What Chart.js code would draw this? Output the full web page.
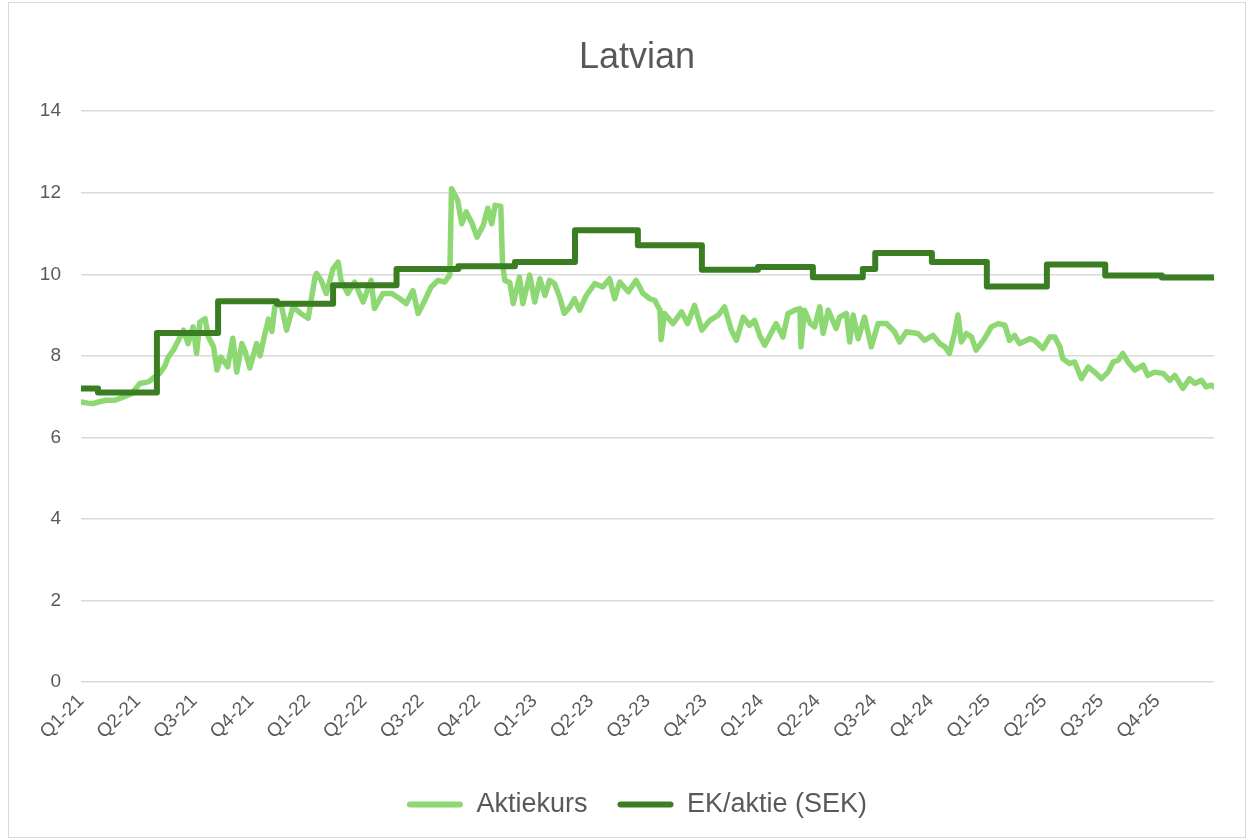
<!DOCTYPE html>
<html>
<head>
<meta charset="utf-8">
<script src="https://cdn.jsdelivr.net/npm/chart.js@4.4.1/dist/chart.umd.min.js"></script>
<style>
  html, body { margin: 0; padding: 0; background: #ffffff; }
  #wrap { position: relative; width: 1252px; height: 840px; }
  #frame { position: absolute; left: 8px; top: 2px; width: 1236px; height: 834px; border: 1px solid #d9d9d9; pointer-events: none; }
</style>
</head>
<body>
<div id="wrap">
  <canvas id="c" width="1252" height="840"></canvas>
  <div id="frame"></div>
</div>
<script>
// ---- Data (x = quarters elapsed since start of Q1-21) ----
const quarterLabels = ["Q1-21","Q2-21","Q3-21","Q4-21","Q1-22","Q2-22","Q3-22","Q4-22",
  "Q1-23","Q2-23","Q3-23","Q4-23","Q1-24","Q2-24","Q3-24","Q4-24","Q1-25","Q2-25","Q3-25","Q4-25"];

const seriesNames = ["Aktiekurs", "EK/aktie (SEK)"];

const aktieQ = [0.00,0.12,0.21,0.34,0.45,0.60,0.75,0.89,1.04,1.19,1.30,1.39,1.48,1.54,1.63,1.75,1.81,1.89,1.98,2.04,
  2.10,2.19,2.25,2.34,2.40,2.47,2.59,2.68,2.75,2.84,2.90,2.98,3.10,3.16,3.24,3.31,3.37,3.42,3.53,3.63,
  3.74,3.88,4.01,4.13,4.16,4.24,4.33,4.45,4.54,4.59,4.71,4.83,4.98,5.12,5.18,5.33,5.48,5.63,5.74,5.86,
  5.95,6.07,6.18,6.30,6.42,6.51,6.54,6.60,6.65,6.72,6.80,6.90,6.99,7.10,7.18,7.25,7.31,7.41,7.44,7.48,
  7.57,7.63,7.74,7.80,7.92,8.01,8.10,8.19,8.27,8.36,8.45,8.53,8.63,8.71,8.80,8.92,9.07,9.21,9.33,9.42,
  9.51,9.66,9.80,9.92,10.04,10.13,10.22,10.24,10.30,10.45,10.60,10.71,10.83,10.96,11.10,11.25,11.36,11.48,11.57,11.69,
  11.80,11.89,11.98,12.07,12.16,12.27,12.39,12.48,12.60,12.69,12.71,12.77,12.87,12.95,13.04,13.10,13.19,13.33,13.39,13.51,
  13.57,13.63,13.72,13.83,13.95,14.07,14.22,14.36,14.45,14.57,14.77,14.89,15.04,15.16,15.25,15.33,15.42,15.48,15.54,15.63,
  15.72,15.80,15.95,16.07,16.19,16.31,16.39,16.48,16.57,16.75,16.83,16.98,17.10,17.19,17.28,17.33,17.45,17.54,17.66,17.78,
  17.92,18.01,18.13,18.22,18.31,18.39,18.48,18.60,18.75,18.83,18.95,19.10,19.22,19.31,19.45,19.57,19.66,19.78,19.86,19.95,20.00];

const aktieVal = [6.87,6.84,6.83,6.88,6.91,6.91,6.99,7.07,7.32,7.36,7.48,7.57,7.75,7.97,8.14,8.46,8.63,8.30,8.71,8.06,
  8.83,8.91,8.46,8.22,7.65,7.97,7.73,8.43,7.60,8.30,8.10,7.70,8.30,8.00,8.50,8.90,8.60,9.20,9.28,8.63,
  9.20,9.04,8.92,9.93,10.02,9.85,9.53,10.14,10.30,9.85,9.53,9.81,9.32,9.85,9.16,9.53,9.53,9.40,9.28,9.60,
  9.04,9.36,9.69,9.85,9.81,9.98,12.10,11.95,11.81,11.24,11.53,11.26,10.91,11.20,11.62,11.24,11.69,11.67,10.30,9.85,
  9.80,9.28,9.93,9.28,9.98,9.32,9.89,9.48,9.85,9.77,9.44,9.04,9.20,9.40,9.12,9.48,9.77,9.69,9.89,9.40,
  9.81,9.57,9.85,9.53,9.40,9.36,9.12,8.40,9.04,8.79,9.08,8.79,9.24,8.63,8.87,9.00,9.20,8.63,8.38,8.95,
  8.75,8.87,8.50,8.26,8.50,8.79,8.46,9.04,9.12,9.16,8.22,9.12,8.80,8.71,9.20,8.55,9.12,8.67,8.95,9.04,
  8.34,9.00,8.42,8.95,8.22,8.79,8.79,8.59,8.34,8.59,8.55,8.38,8.50,8.30,8.22,8.06,8.55,9.00,8.34,8.55,
  8.46,8.14,8.42,8.71,8.79,8.75,8.38,8.50,8.30,8.42,8.38,8.18,8.46,8.46,8.22,7.93,7.81,7.85,7.44,7.73,
  7.57,7.44,7.60,7.85,7.89,8.06,7.85,7.65,7.77,7.52,7.60,7.57,7.40,7.52,7.20,7.44,7.32,7.40,7.24,7.28,7.24];

const ekQ   = [0.00,0.30,1.34,2.42,3.46,4.45,5.57,6.66,7.66,8.72,9.83,10.96,11.95,12.92,13.80,14.02,15.02,15.99,17.05,18.08,19.08,20.00];
const ekVal = [7.20,7.10,8.56,9.34,9.28,9.73,10.13,10.20,10.30,11.08,10.71,10.11,10.18,9.93,10.13,10.52,10.30,9.70,10.24,9.97,9.92,9.92];

const yMin = 0, yMax = 14, yStep = 2;

// ---- Styles ----
const lightGreen = "#8ED873";
const darkGreen  = "#3B7D23";
const textGray   = "#595959";
const gridGray   = "#d9d9d9";
const fontFamily = "'Liberation Sans', Arial, sans-serif";

const aktiePts = aktieQ.map((q, i) => ({ x: q, y: aktieVal[i] }));
const ekPts    = ekQ.map((q, i) => ({ x: q, y: ekVal[i] }));

// Shift title and legend boxes horizontally so they centre like the reference
const shiftBoxes = {
  id: "shiftBoxes",
  afterLayout(chart) {
    const dx = 30;
    [chart.titleBlock, chart.legend].forEach((b) => {
      if (b) { b.left += dx; b.right += dx; }
    });
  }
};

new Chart(document.getElementById("c"), {
  type: "line",
  data: {
    datasets: [
      { label: seriesNames[0], data: aktiePts, borderColor: lightGreen, backgroundColor: lightGreen,
        borderWidth: 5.5, pointRadius: 0, tension: 0, order: 2, borderJoinStyle: "round", borderCapStyle: "round" },
      { label: seriesNames[1], data: ekPts, borderColor: darkGreen, backgroundColor: darkGreen,
        borderWidth: 6, pointRadius: 0, stepped: "before", order: 1, borderJoinStyle: "round", borderCapStyle: "round" }
    ]
  },
  plugins: [shiftBoxes],
  options: {
    responsive: false,
    animation: false,
    layout: { padding: { left: 0, right: 38, top: 0, bottom: 12 } },
    plugins: {
      tooltip: { enabled: false },
      title: {
        display: true, text: "Latvian", color: textGray,
        font: { family: fontFamily, size: 36, weight: "normal" },
        padding: { top: 36, bottom: 32 }
      },
      legend: {
        display: true, position: "bottom",
        labels: {
          color: textGray, font: { family: fontFamily, size: 27 },
          boxWidth: 56, boxHeight: 6, padding: 30, useBorderRadius: true, borderRadius: 3,
          generateLabels: (chart) => chart.data.datasets.map((ds, i) => ({
            text: ds.label, fillStyle: ds.borderColor, strokeStyle: ds.borderColor,
            lineWidth: 0, hidden: false, datasetIndex: i, fontColor: textGray, borderRadius: 3
          }))
        }
      }
    },
    scales: {
      x: {
        type: "linear", min: 0, max: quarterLabels.length,
        grid: { display: false },
        border: { display: false },
        afterFit: (s) => { s.height = 79; },
        afterBuildTicks: (s) => { s.ticks = quarterLabels.map((_, i) => ({ value: i })); },
        ticks: {
          autoSkip: false, maxRotation: 45, minRotation: 45, padding: 0,
          color: textGray, font: { family: fontFamily, size: 19 },
          callback: (v) => quarterLabels[v] !== undefined ? quarterLabels[v] : ""
        }
      },
      y: {
        min: yMin, max: yMax,
        afterFit: (s) => { s.width = 81; },
        grid: { color: gridGray, lineWidth: 1.5, drawTicks: false },
        border: { display: false },
        ticks: { stepSize: yStep, padding: 20, color: textGray, font: { family: fontFamily, size: 19 } }
      }
    }
  }
});
</script>
</body>
</html>
